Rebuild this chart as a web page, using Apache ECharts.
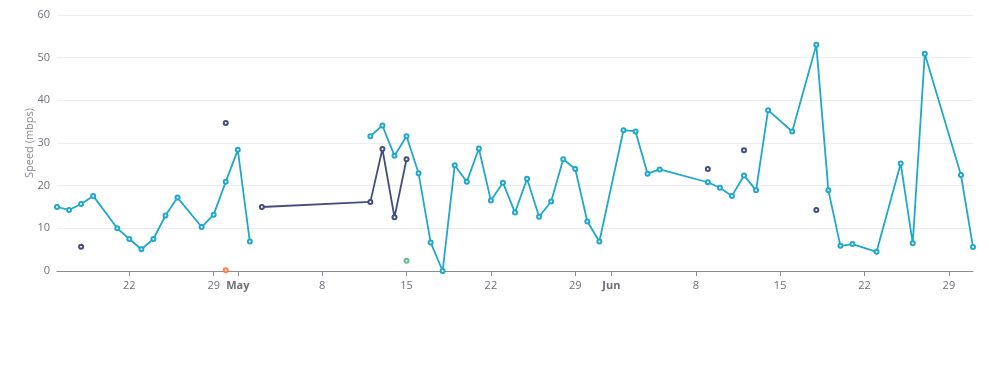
<!DOCTYPE html>
<html>
<head>
<meta charset="utf-8">
<script src="https://cdn.jsdelivr.net/npm/echarts@6/dist/echarts.min.js"></script>
<style>html,body{margin:0;padding:0;background:#fff;}#c{width:989px;height:392px;}</style>
</head>
<body>
<div id="c"></div>
<script>
const dates = ['2023-04-16','2023-04-17','2023-04-18','2023-04-19','2023-04-21','2023-04-22','2023-04-23','2023-04-24','2023-04-25','2023-04-26','2023-04-28','2023-04-29','2023-04-30','2023-05-01','2023-05-02','2023-05-03',
'2023-05-12','2023-05-13','2023-05-14','2023-05-15','2023-05-16','2023-05-17','2023-05-18','2023-05-19','2023-05-20','2023-05-21','2023-05-22','2023-05-23','2023-05-24','2023-05-25','2023-05-26','2023-05-27','2023-05-28','2023-05-29','2023-05-30','2023-05-31',
'2023-06-02','2023-06-03','2023-06-04','2023-06-05','2023-06-09','2023-06-10','2023-06-11','2023-06-12','2023-06-13','2023-06-14','2023-06-16','2023-06-18','2023-06-19','2023-06-20','2023-06-21','2023-06-23','2023-06-25','2023-06-26','2023-06-27','2023-06-30','2023-07-01'];

const seriesA = [15.0,14.3,15.7,17.6,10.0,7.5,5.1,7.5,13.0,17.2,10.3,13.2,20.9,28.4,6.9,null,
31.6,34.1,27.0,31.6,22.9,6.7,0,24.8,20.9,28.7,16.5,20.7,13.7,21.6,12.7,16.3,26.2,23.9,11.6,6.9,
33.0,32.7,22.8,23.8,20.8,19.5,17.6,22.4,18.9,37.7,32.7,53.0,18.9,5.9,6.3,4.5,25.2,6.5,50.9,22.5,5.6];

const seriesB = [null,null,5.7,null,null,null,null,null,null,null,null,null,34.7,null,null,15.0,
16.2,28.6,12.6,26.2,null,null,null,null,null,null,null,null,null,null,null,null,null,null,null,null,
null,null,null,null,23.9,null,null,28.3,null,null,null,14.3,null,null,null,null,null,null,null,null,null];

const seriesC = dates.map(d => d === '2023-05-15' ? 2.4 : null);
const seriesD = dates.map(d => d === '2023-04-30' ? 0.2 : null);

const yTicks = [0,10,20,30,40,50,60];

function pairs(vals){ return dates.map((d,i)=>[d, vals[i]]); }

const chart = echarts.init(document.getElementById('c'));
const font = '"Open Sans", "Noto Sans", sans-serif';
function mk(name, vals, color){
  return {
    name, type:'line', data: pairs(vals), connectNulls:false,
    symbol:'emptyCircle', symbolSize:4, showSymbol:true,
    lineStyle:{width:1.8, color}, itemStyle:{color, borderWidth:1.5},
    emphasis:{disabled:true}
  };
}
chart.setOption({
  animation:false,
  textStyle:{fontFamily:font},
  grid:{left:57, right:16, top:15, bottom:121, containLabel:false},
  xAxis:{
    type:'time', min:'dataMin', max:'dataMax',
    axisLine:{lineStyle:{color:'#8c8c94'}},
    axisTick:{show:true, lineStyle:{color:'#8c8c94'}},
    axisLabel:{color:'#6e7079', fontSize:11, fontFamily:font, margin:9},
    splitLine:{show:false}
  },
  yAxis:{
    type:'value', min:yTicks[0], max:yTicks[yTicks.length-1], interval:10,
    name:'Speed (mbps)', nameLocation:'middle', nameGap:22, nameMoveOverlap:false,
    nameTextStyle:{color:'#8a8a94', fontSize:11, fontFamily:font},
    axisLabel:{color:'#6e7079', fontSize:11, fontFamily:font, margin:7},
    splitLine:{lineStyle:{color:'#ececf4'}},
    axisLine:{show:false}, axisTick:{show:false}
  },
  series:[
    mk('A', seriesA, '#1FA8C9'),
    mk('B', seriesB, '#454E7C'),
    mk('C', seriesC, '#5AC189'),
    mk('D', seriesD, '#FF7F44')
  ]
});
</script>
</body>
</html>
